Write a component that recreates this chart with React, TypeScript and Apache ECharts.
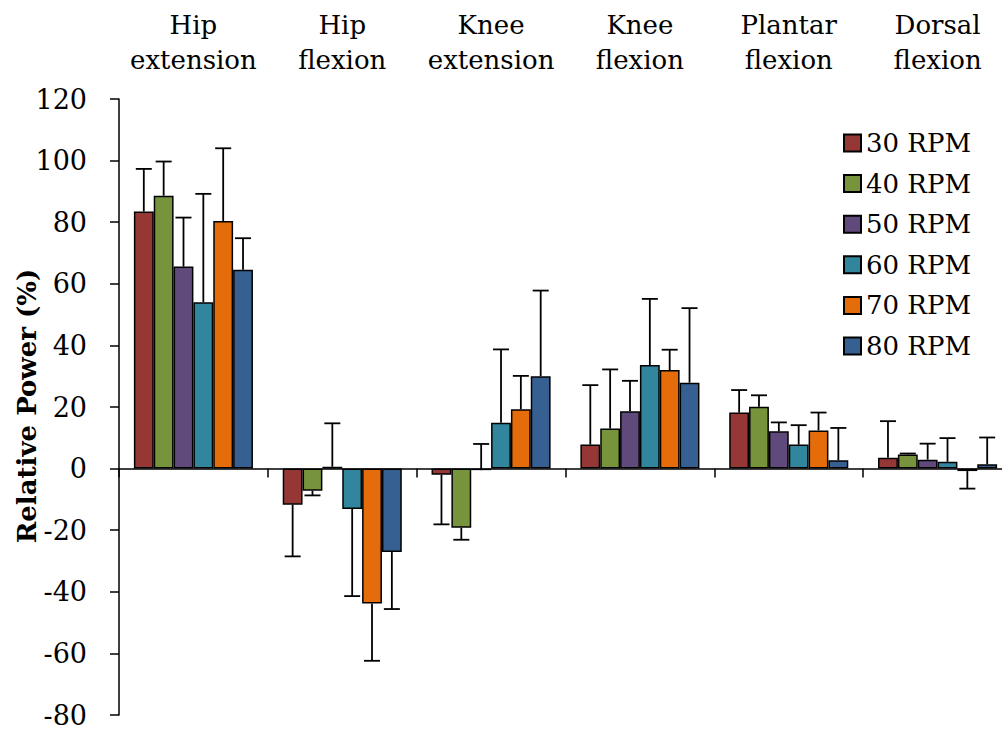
import React, { useEffect, useRef } from "react";
import * as echarts from "echarts";

const categories = [
  "Hip\nextension",
  "Hip\nflexion",
  "Knee\nextension",
  "Knee\nflexion",
  "Plantar\nflexion",
  "Dorsal\nflexion",
];

const seriesNames = ["30 RPM", "40 RPM", "50 RPM", "60 RPM", "70 RPM", "80 RPM"];
const seriesColors = ["#953735", "#77933C", "#604A7B", "#31859C", "#E46C0A", "#376092"];

// Mean relative power (%)
const rpm30 = [83.5, -11.7, -2.0, 7.8, 18.2, 3.5];
const rpm40 = [88.6, -7.2, -19.2, 13.0, 20.1, 4.6];
const rpm50 = [65.6, 0.6, -0.5, 18.6, 12.1, 2.9];
const rpm60 = [54.0, -13.1, 14.9, 33.6, 7.8, 2.2];
const rpm70 = [80.4, -43.8, 19.3, 32.0, 12.4, -0.8];
const rpm80 = [64.6, -27.1, 30.0, 27.9, 2.7, 1.4];

// End point of each error bar (%)
const err30 = [97.3, -28.5, -18.1, 27.1, 25.5, 15.4];
const err40 = [99.7, -8.7, -23.1, 32.2, 23.8, 4.9];
const err50 = [81.5, 14.7, 8.0, 28.5, 15.0, 8.1];
const err60 = [89.2, -41.4, 38.7, 55.1, 14.1, 9.9];
const err70 = [104.0, -62.4, 30.1, 38.6, 18.2, -6.5];
const err80 = [74.8, -45.6, 57.8, 52.1, 13.2, 10.1];

const yTicks = { min: -80, max: 120, interval: 20 };
const yTitle = "Relative Power (%)";

const means = [rpm30, rpm40, rpm50, rpm60, rpm70, rpm80];
const errs = [err30, err40, err50, err60, err70, err80];

const FONT = "DejaVu Serif";
const CAT_GAP = 0.2;

export default function App() {
  const ref = useRef<HTMLDivElement>(null);

  useEffect(() => {
    if (!ref.current) return;
    const chart = echarts.init(ref.current, null, { renderer: "svg" });

    const nSeries = means.length;
    const barSeries = means.map((vals, i) => ({
      name: seriesNames[i],
      type: "bar",
      xAxisIndex: 0,
      data: vals,
      barGap: "0%",
      barCategoryGap: CAT_GAP * 100 + "%",
      itemStyle: { color: seriesColors[i], borderColor: "#000", borderWidth: 1.5 },
      z: 2,
    }));

    const errData: number[][] = [];
    means.forEach((vals, s) => {
      vals.forEach((v, c) => {
        errData.push([c, v, s, errs[s][c]]);
      });
    });

    const errorSeries = {
      type: "custom",
      xAxisIndex: 0,
      z: 3,
      encode: { x: 0, y: 1 },
      data: errData,
      renderItem: (params: any, api: any) => {
        const c = api.value(0);
        const v = api.value(1);
        const s = api.value(2);
        const e = api.value(3);
        const band = api.size([1, 0])[0];
        const bw = (band * (1 - CAT_GAP)) / nSeries;
        const cx = api.coord([c, 0])[0] + (s - (nSeries - 1) / 2) * bw;
        const y1 = api.coord([c, v])[1];
        const y2 = api.coord([c, e])[1];
        const cap = 8;
        const style = { stroke: "#000", lineWidth: 1.8 };
        return {
          type: "group",
          children: [
            { type: "line", shape: { x1: cx, y1: y1, x2: cx, y2: y2 }, style },
            { type: "line", shape: { x1: cx - cap, y1: y2, x2: cx + cap, y2: y2 }, style },
          ],
        };
      },
    };

    chart.setOption({
      animation: false,
      textStyle: { fontFamily: FONT, color: "#000" },
      grid: {
        left: 119,
        right: -10,
        top: 99,
        bottom: 21,
        containLabel: false,
        outerBoundsMode: "none",
      },
      graphic: [
        {
          type: "text",
          x: 27,
          y: 406,
          rotation: Math.PI / 2,
          style: {
            text: yTitle,
            fontFamily: FONT,
            fontSize: 26,
            fontWeight: "bold",
            fill: "#000",
            align: "center",
            verticalAlign: "middle",
          },
        },
      ],
      legend: {
        data: seriesNames,
        orient: "vertical",
        left: 838,
        top: 125,
        itemWidth: 17,
        itemHeight: 17,
        itemGap: 14.6,
        icon: "rect",
        textStyle: { fontFamily: FONT, fontSize: 26, color: "#000", lineHeight: 25 },
      },
      xAxis: [
        {
          type: "category",
          data: categories,
          position: "bottom",
          axisLine: { onZero: true, lineStyle: { color: "#000", width: 1.5 } },
          axisTick: { show: true, inside: false, length: 9, lineStyle: { color: "#000", width: 1.5 } },
          axisLabel: { show: false },
          splitLine: { show: false },
        },
        {
          type: "category",
          data: categories,
          position: "top",
          axisLine: { show: false },
          axisTick: { show: false },
          axisLabel: {
            interval: 0,
            margin: 22,
            fontFamily: FONT,
            fontSize: 26,
            lineHeight: 35,
            color: "#000",
          },
          splitLine: { show: false },
        },
      ],
      yAxis: {
        type: "value",
        min: yTicks.min,
        max: yTicks.max,
        interval: yTicks.interval,
        axisLine: { show: true, lineStyle: { color: "#000", width: 1.5 } },
        axisTick: { show: true, inside: false, length: 9, lineStyle: { color: "#000", width: 1.5 } },
        axisLabel: { margin: 32, fontFamily: FONT, fontSize: 27, color: "#000" },
        splitLine: { show: false },
      },
      series: [...barSeries, errorSeries],
    });

    return () => chart.dispose();
  }, []);

  return (
    <div
      ref={ref}
      style={{ position: "fixed", left: 0, top: 0, width: 1002, height: 736, background: "#fff" }}
    />
  );
}
